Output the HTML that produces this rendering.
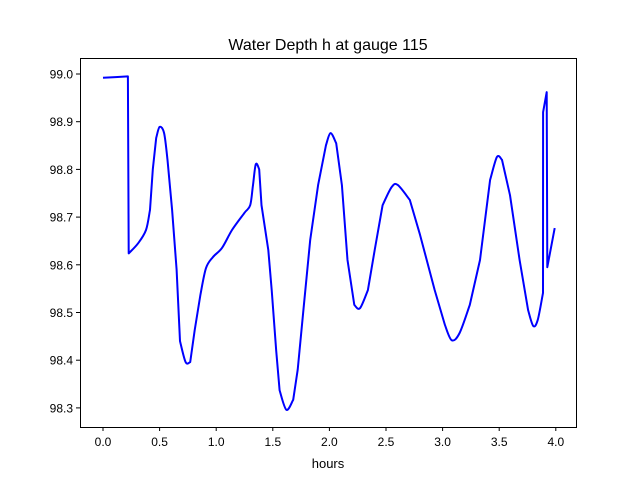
<!DOCTYPE html>
<html><head><meta charset="utf-8"><style>
body{margin:0;background:#fff;width:640px;height:480px;overflow:hidden;font-family:"Liberation Sans","DejaVu Sans",sans-serif;}
</style></head><body>
<svg id="chart" width="640" height="480" xmlns="http://www.w3.org/2000/svg">
<rect width="640" height="480" fill="#fff"/>
<text x="328" y="50" font-size="16" text-anchor="middle" fill="#000">Water Depth h at gauge 115</text>
<text x="328" y="468" font-size="13" text-anchor="middle" fill="#000">hours</text>
<g id="plot"></g>
<rect x="80.5" y="58.5" width="496" height="369" fill="none" stroke="#000" stroke-width="1"/>
</svg>
<script>
const hours=[0,0.22,0.227,0.31,0.38,0.415,0.44,0.47,0.50,0.54,0.57,0.61,0.65,0.68,0.73,0.77,0.81,0.86,0.91,0.97,1.05,1.14,1.25,1.30,1.325,1.35,1.38,1.40,1.46,1.49,1.53,1.56,1.62,1.68,1.72,1.77,1.83,1.90,1.97,2.01,2.06,2.11,2.16,2.22,2.27,2.34,2.40,2.47,2.55,2.605,2.71,2.80,2.93,3.02,3.08,3.15,3.24,3.33,3.42,3.48,3.525,3.595,3.68,3.755,3.80,3.84,3.887,3.888,3.92,3.925,3.99];
const depth=[98.992,98.995,98.624,98.645,98.673,98.715,98.80,98.866,98.889,98.876,98.82,98.715,98.59,98.44,98.396,98.396,98.463,98.537,98.593,98.616,98.635,98.673,98.709,98.725,98.767,98.811,98.80,98.725,98.631,98.547,98.42,98.337,98.296,98.317,98.38,98.505,98.652,98.767,98.851,98.876,98.855,98.767,98.61,98.516,98.509,98.547,98.631,98.725,98.763,98.767,98.736,98.663,98.547,98.474,98.442,98.457,98.516,98.61,98.778,98.826,98.82,98.746,98.61,98.505,98.472,98.484,98.541,98.92,98.962,98.595,98.677];
const xTicks=[0,0.5,1,1.5,2,2.5,3,3.5,4];
const xTickLabels=["0.0","0.5","1.0","1.5","2.0","2.5","3.0","3.5","4.0"];
const yTicks=[98.3,98.4,98.5,98.6,98.7,98.8,98.9,99.0];
const yTickLabels=["98.3","98.4","98.5","98.6","98.7","98.8","98.9","99.0"];
const X=h=>103+113.2*h;
const Y=v=>74+(99.0-v)*477;
const NS="http://www.w3.org/2000/svg";
const g=document.getElementById('plot');
function mk(t,a){const e=document.createElementNS(NS,t);for(const k in a)e.setAttribute(k,a[k]);g.appendChild(e);return e;}
xTicks.forEach((t,i)=>{
 const l=mk('line',{x1:X(t),x2:X(t),y1:427,y2:431,stroke:'#000'});
 
 
 const tx=mk('text',{x:X(t),y:446,'font-size':12,'text-anchor':'middle'});
 
 
 tx.textContent=xTickLabels[i];
});
yTicks.forEach((t,i)=>{
 const l=mk('line',{x1:76,x2:80,y1:Y(t),y2:Y(t),stroke:'#000'});
 
 
 const tx=mk('text',{x:73,y:Y(t)+4.5,'font-size':12,'text-anchor':'end'});
 
 
 tx.textContent=yTickLabels[i];
});
// smooth path, with straight jumps where x barely changes
const pts=hours.map((h,i)=>[X(h),Y(depth[i])]);
const segs=[];let cur=[pts[0]];
for(let i=1;i<pts.length;i++){
 const dx=pts[i][0]-pts[i-1][0],dy=Math.abs(pts[i][1]-pts[i-1][1]);
 if(dy>3*Math.max(dx,0.3)&&dy>30){segs.push(cur);cur=[pts[i]];}else cur.push(pts[i]);
}
segs.push(cur);
let d='';
segs.forEach((s,si)=>{
 d+=(si?'L':'M')+s[0][0].toFixed(1)+','+s[0][1].toFixed(1);
 for(let i=0;i<s.length-1;i++){
  const p0=s[i-1]||s[i],p1=s[i],p2=s[i+1],p3=s[i+2]||s[i+1];
  const c1=[p1[0]+(p2[0]-p0[0])/6,p1[1]+(p2[1]-p0[1])/6];
  const c2=[p2[0]-(p3[0]-p1[0])/6,p2[1]-(p3[1]-p1[1])/6];
  d+=' C'+c1[0].toFixed(1)+','+c1[1].toFixed(1)+' '+c2[0].toFixed(1)+','+c2[1].toFixed(1)+' '+p2[0].toFixed(1)+','+p2[1].toFixed(1);
 }
});
const p=mk('path',{d:d,fill:'none',stroke:'#0000ff','stroke-width':2,'stroke-linejoin':'round'});


</script>
</body></html>
